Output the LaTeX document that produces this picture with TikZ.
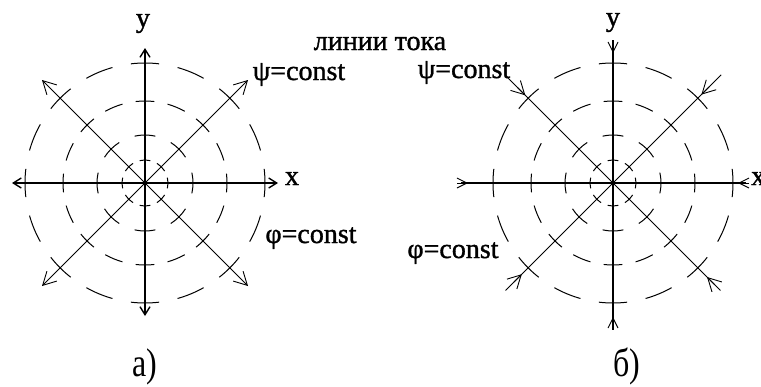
\documentclass[tikz,border=0pt]{standalone}
\usepackage{fontspec}
\setmainfont{Liberation Serif}
\newfontfamily\heavyserif[FakeBold=1.2]{Liberation Serif}
\usetikzlibrary{arrows.meta,calc}
\begin{document}
\begin{tikzpicture}[x=1pt,y=-1pt,
  axisln/.style={line width=1.4pt},
  diagln/.style={line width=0.9pt},
  circ/.style={line width=1pt},
  smallbarb/.style={-{Straight Barb[length=8pt,width=10pt]}},
  bigbarb/.style={-{Straight Barb[length=13pt,width=14pt]}},
  inbarb/.style={-{Straight Barb[length=10pt,width=10pt]}},
  lbl/.style={font=\heavyserif\fontsize{28}{32}\selectfont, inner sep=0pt, anchor=base},
  caplbl/.style={font=\fontsize{40}{44}\selectfont, inner sep=0pt, anchor=base, xscale=0.8}]
\useasboundingbox (0,0) rectangle (761,386);
\fill[white] (0,0) rectangle (761,386);
\coordinate (O1) at (145,183);
\coordinate (O2) at (613,183);

% dashed circles
\foreach \c in {O1,O2}{
  \begin{scope}[shift={(\c)}]
  \foreach \r/\n/\d in {23/8/27, 48/8/25, 82/16/13, 120/16/13.5}{
    \foreach \k in {1,...,\n}{
      \pgfmathsetmacro\aa{\k*360/\n-\d/2}
      \draw[circ] (\aa:\r) arc[start angle=\aa, delta angle=\d, radius=\r];
    }
  }
  \end{scope}
}

% diagram a)
\begin{scope}[shift={(O1)}]
  \coordinate (aL) at (-133,0); \coordinate (aR) at (133,0);
  \coordinate (aT) at (0,-135); \coordinate (aB) at (0,133);
  \coordinate (aTR) at (103,-103); \coordinate (aTL) at (-103,-103);
  \coordinate (aBL) at (-103,103); \coordinate (aBR) at (103,103);
\end{scope}
\draw[axisln,smallbarb] (O1) -- (aL);
\draw[axisln,smallbarb] (O1) -- (aR);
\draw[axisln,smallbarb] (O1) -- (aT);
\draw[axisln,smallbarb] (O1) -- (aB);
\foreach \p in {aTR,aTL,aBL,aBR}{ \draw[diagln,bigbarb] (O1) -- (\p); }
\fill (O1) circle (2.2);

% diagram b)
\begin{scope}[shift={(O2)}]
  \foreach \nm/\ang/\rend/\rtip in {bR/0/133/125, bL/180/152/145, bT/270/143/130, bB/90/147/134,
      bTR/315/153/125, bTL/225/148/124, bBL/135/152/129, bBR/45/152/133}{
    \coordinate (\nm) at (\ang:\rend);
    \coordinate (\nm t) at (\ang:\rtip);
    \coordinate (\nm s) at ({\ang}:{\rtip+11});
  }
\end{scope}
\foreach \p in {bR,bL,bT,bB}{
  \draw[axisln] (O2) -- (\p);
  \draw[diagln,inbarb] (\p s) -- (\p t);
}
\foreach \p in {bTR,bTL,bBL,bBR}{
  \draw[diagln] (O2) -- (\p);
  \draw[diagln,bigbarb] (\p s) -- (\p t);
}
\fill (O2) circle (2.2);

% labels
\node[lbl] (ya) at (143,27) {y};
\node[lbl] (xa) at (292,185) {x};
\node[lbl] (yb) at (613,26) {y};
\node[lbl,anchor=base west] (xb) at (751,185) {x};
\node[lbl] (psia) at (299,80) {ψ=const};
\node[lbl] (phia) at (311,243) {φ=const};
\node[lbl] (psib) at (464,78) {ψ=const};
\node[lbl] (phib) at (453,258) {φ=const};
\node[lbl] (lines) at (380,50) {линии тока};
\node[caplbl] (capa) at (145,376) {а)};
\node[caplbl] (capb) at (627,376) {б)};
\end{tikzpicture}
\end{document}
